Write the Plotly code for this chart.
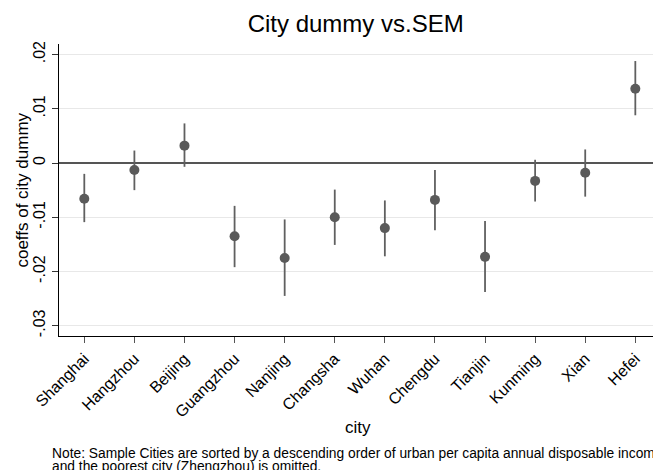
import plotly.graph_objects as go

# City dummy coefficients with 95% confidence bounds
cities = ["Shanghai", "Hangzhou", "Beijing", "Guangzhou", "Nanjing", "Changsha",
          "Wuhan", "Chengdu", "Tianjin", "Kunming", "Xian", "Hefei"]
coef = [-0.0066, -0.0013, 0.0032, -0.0135, -0.0175, -0.0100,
        -0.0120, -0.0068, -0.0173, -0.0033, -0.0018, 0.0137]
ci_low = [-0.0109, -0.0050, -0.0007, -0.0192, -0.0245, -0.0151,
          -0.0172, -0.0124, -0.0238, -0.0071, -0.0062, 0.0088]
ci_high = [-0.0020, 0.0023, 0.0073, -0.0079, -0.0104, -0.0049,
           -0.0069, -0.0013, -0.0107, 0.0006, 0.0025, 0.0188]

y_ticks = [-0.03, -0.02, -0.01, 0, 0.01, 0.02]
y_ticklabels = ["-.03", "-.02", "-.01", "0", ".01", ".02"]

note_lines = [
    "Note: Sample Cities are sorted by a descending order of urban per capita "
    "annual disposable income,",
    "and the poorest city (Zhengzhou) is omitted.",
]

positions = list(range(1, len(cities) + 1))
err_plus = [h - c for h, c in zip(ci_high, coef)]
err_minus = [c - l for c, l in zip(coef, ci_low)]

FONT = "Liberation Sans, Arial, Helvetica, sans-serif"
MARK = "#5a5a5a"

fig = go.Figure()
fig.add_trace(go.Scatter(
    x=positions, y=coef, mode="markers",
    marker=dict(size=10, color=MARK),
    error_y=dict(type="data", symmetric=False, array=err_plus,
                 arrayminus=err_minus, width=0, thickness=1.8, color="#606060"),
    showlegend=False,
))

annotations = [
    dict(text="coeffs of city dummy", textangle=-90, xref="paper",
         yref="paper", x=-0.063, y=0.5, xanchor="center",
         yanchor="middle", showarrow=False, font=dict(size=17)),
    dict(text="city", xref="paper", yref="paper", x=0.503, y=-0.312,
         xanchor="center", yanchor="middle", showarrow=False,
         font=dict(size=17)),
]
# two note lines set with tight spacing, anchored below the axis title
for line, ypos in zip(note_lines, [-0.4024, -0.4475]):
    annotations.append(dict(
        text=line, xref="paper", yref="paper", x=-0.015, y=ypos,
        xanchor="left", yanchor="middle", align="left", showarrow=False,
        font=dict(size=13.8)))

fig.update_layout(
    width=653, height=470,
    margin=dict(l=59, r=0, t=44, b=134),
    paper_bgcolor="white", plot_bgcolor="white",
    font=dict(family=FONT, color="black"),
    title=dict(text="City dummy vs.SEM", x=0.5447, xanchor="center",
               y=0.949, yanchor="middle", font=dict(size=24, color="black")),
    xaxis=dict(
        range=[0.495, 12.353], tickmode="array", tickvals=positions,
        ticktext=cities, tickangle=-45, tickfont=dict(size=16),
        ticks="outside", ticklen=6, tickcolor="#555555", tickwidth=1.3,
        showline=True, linecolor="black", linewidth=1.3,
        showgrid=False, zeroline=False,
    ),
    yaxis=dict(
        range=[-0.03189, 0.02194], tickmode="array", tickvals=y_ticks,
        ticktext=y_ticklabels, tickangle=-90, tickfont=dict(size=16),
        ticks="outside", ticklen=6, tickcolor="#333333", tickwidth=1.3,
        showline=True, linecolor="black", linewidth=1.3,
        showgrid=True, gridcolor="#e8e8e8", gridwidth=1,
        zeroline=True, zerolinecolor="#555555", zerolinewidth=2,
    ),
    annotations=annotations,
)

fig.write_html("out.html")
